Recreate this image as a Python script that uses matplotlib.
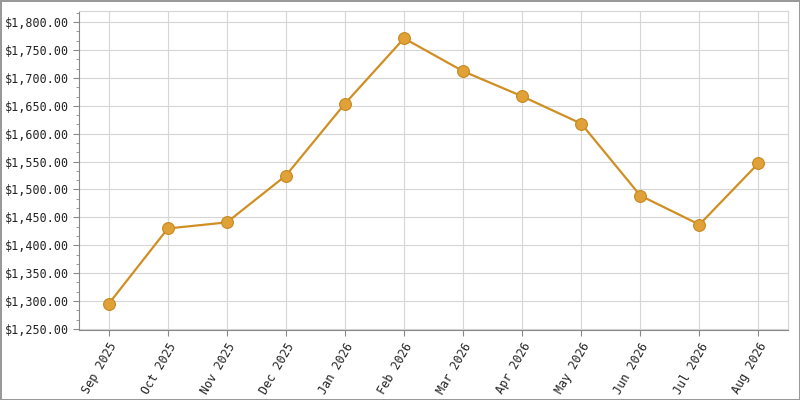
import matplotlib
matplotlib.use("Agg")
import matplotlib.pyplot as plt
from matplotlib.ticker import FuncFormatter, AutoMinorLocator, MultipleLocator

months = ["Sep 2025", "Oct 2025", "Nov 2025", "Dec 2025", "Jan 2026", "Feb 2026",
          "Mar 2026", "Apr 2026", "May 2026", "Jun 2026", "Jul 2026", "Aug 2026"]
prices = [1295, 1430, 1441, 1525, 1654, 1771, 1712, 1667, 1618, 1489, 1437, 1547]

plt.rcParams['font.family'] = ['DejaVu Sans Mono']

fig = plt.figure(figsize=(8, 4), dpi=100)
fig.patch.set_facecolor('white')
fig.patch.set_edgecolor('#999999')
fig.patch.set_linewidth(2)

ax = fig.add_axes([0.099, 0.175, 0.886, 0.7975])
x = list(range(len(months)))
ax.plot(x, prices, color='#d08f22', lw=1.6, marker='o', ms=8.5,
        mfc='#e0a238', mec='#c8891e', mew=0.8, zorder=3)

ax.set_xlim(-0.5, len(months) - 0.5)
ax.set_ylim(1248, 1820)
ax.yaxis.set_major_locator(MultipleLocator(50))
ax.yaxis.set_minor_locator(AutoMinorLocator(3))
ax.yaxis.set_major_formatter(FuncFormatter(lambda v, p: "${:,.2f}".format(v)))
ax.set_xticks(x)
ax.set_xticklabels(months, rotation=60, ha='right', rotation_mode='anchor')

ax.grid(True, color='#d6d6d6', lw=0.8)
ax.set_axisbelow(True)
for s in ['top', 'right']:
    ax.spines[s].set_color('#d6d6d6')
for s in ['left', 'bottom']:
    ax.spines[s].set_color('#888888')
ax.tick_params(axis='both', labelsize=8.5, color='#888888', labelcolor='#222222', length=4)
ax.tick_params(axis='y', which='minor', color='#888888', length=2.5)

fig.savefig("out.png", dpi=100, edgecolor=fig.get_edgecolor())
